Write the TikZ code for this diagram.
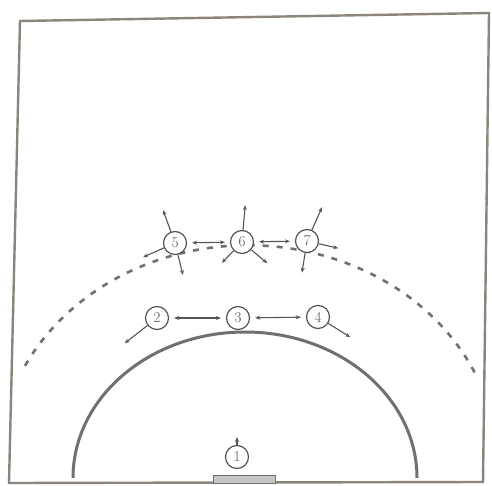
\documentclass[tikz,border=0pt]{standalone}
\usepackage{tikz}
\usetikzlibrary{positioning,arrows.meta}
\definecolor{clinea}{HTML}{707070}
\definecolor{cmarco}{HTML}{8C857C}
\definecolor{cjug}{HTML}{555555}
\tikzset{
  jugador/.style={circle, draw=cjug, line width=1.2pt, fill=white, inner sep=0pt,
    minimum size=23pt, font=\fontsize{15}{15}\selectfont, text=cjug},
  mov/.style={-{Stealth[length=5pt,width=4pt]}, line width=1.1pt, draw=cjug},
  pase/.style={{Stealth[length=5pt,width=4pt]}-{Stealth[length=5pt,width=4pt]},
    line width=1.1pt, draw=cjug, shorten <=5pt, shorten >=5pt},
  linea/.style={line width=3pt, draw=clinea},
  triple/.style={line width=2.6pt, draw=clinea, dash pattern=on 6pt off 8pt},
}

\begin{document}
\begin{tikzpicture}[x=1pt, y=-1pt]
  \useasboundingbox (0,0) rectangle (492,486);
  \fill[white] (0,0) rectangle (492,486);

  % cancha
  \coordinate (tl) at (20,21);
  \coordinate (tr) at (489,13);
  \coordinate (br) at (483,482);
  \coordinate (bl) at (9,483);
  \draw[cmarco, line width=2.4pt] (tl) -- (tr) -- (br) -- (bl) -- cycle;

  % zona y linea de tres
  \coordinate (aro) at (245,478);
  \draw[linea] (aro) ++(0:172) arc[start angle=0, end angle=-180, x radius=172, y radius=146];
  \coordinate (aro3) at (248,478);
  \draw[triple] (aro3) ++(-25:250) arc[start angle=-25, end angle=-155, x radius=250, y radius=220];
  \draw[clinea, fill=gray!45, line width=1pt] (213,475) rectangle (275,483);

  % jugadores
  \node[jugador] (p1) at (237,457) {1};
  \node[jugador] (p2) at (157,318) {2};
  \node[jugador] (p3) at (238,318) {3};
  \node[jugador] (p4) at (318,317) {4};
  \node[jugador] (p5) at (175,243) {5};
  \node[jugador] (p6) at (242,242) {6};
  \node[jugador] (p7) at (307,241) {7};

  % pases
  \draw[pase] (p2) -- (p3);
  \draw[pase] (p3) -- (p4);
  \draw[pase] (p5) -- (p6);
  \draw[pase] (p6) -- (p7);

  % desplazamientos
  \foreach \p/\a/\l in {5/-110/35, 5/156/35, 5/76/33,
                        6/-85/37, 6/134/29, 6/40/33,
                        7/-66/37, 7/13/32, 7/99/32,
                        2/142/41, 4/32/38, 1/-90/20}
    \draw[mov] (p\p) -- ++(\a:\l);
\end{tikzpicture}
\end{document}
